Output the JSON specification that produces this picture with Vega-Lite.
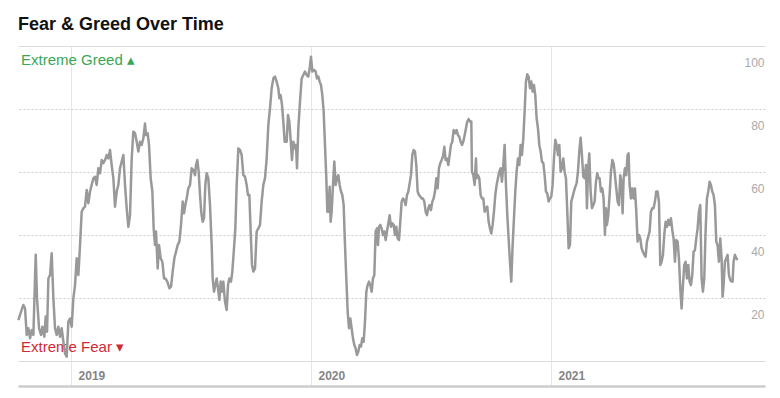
{
  "$schema": "https://vega.github.io/schema/vega-lite/v6.json",
  "width": 747,
  "height": 315,
  "autosize": {"type": "none"},
  "padding": {"left": 18, "top": 46, "right": 15, "bottom": 37},
  "background": "#ffffff",
  "view": {"stroke": null},
  "title": {"text": "Fear & Greed Over Time", "anchor": "start", "frame": "group", "font": "Liberation Sans", "fontSize": 18, "fontWeight": "bold", "color": "#111111", "baseline": "alphabetic", "offset": -2},
  "datasets": {
    "series": [
      {"t":2018.7806,"v":13.0},{"t":2018.7917,"v":15.7},{"t":2018.8014,"v":17.8},{"t":2018.8083,"v":16.7},{"t":2018.8153,"v":8.3},{"t":2018.8222,"v":10.4},{"t":2018.8292,"v":7.2},{"t":2018.8361,"v":9.8},{"t":2018.8431,"v":8.3},{"t":2018.8528,"v":33.7},{"t":2018.8583,"v":19.9},{"t":2018.8667,"v":10.4},{"t":2018.875,"v":8.3},{"t":2018.8806,"v":10.9},{"t":2018.8889,"v":7.7},{"t":2018.8944,"v":14.1},{"t":2018.9,"v":9.3},{"t":2018.9056,"v":26.2},{"t":2018.9125,"v":27.3},{"t":2018.9194,"v":34.2},{"t":2018.9264,"v":19.9},{"t":2018.9333,"v":10.4},{"t":2018.9403,"v":8.3},{"t":2018.9472,"v":10.9},{"t":2018.9542,"v":7.7},{"t":2018.9611,"v":10.4},{"t":2018.9681,"v":6.1},{"t":2018.975,"v":2.4},{"t":2018.9819,"v":1.4},{"t":2018.9889,"v":12.5},{"t":2018.9958,"v":13.5},{"t":2019.0028,"v":10.9},{"t":2019.0097,"v":19.9},{"t":2019.0167,"v":24.1},{"t":2019.0236,"v":32.6},{"t":2019.0306,"v":27.3},{"t":2019.0375,"v":36.8},{"t":2019.0444,"v":47.4},{"t":2019.0514,"v":48.5},{"t":2019.0583,"v":49.0},{"t":2019.0653,"v":54.3},{"t":2019.0722,"v":50.1},{"t":2019.0792,"v":53.8},{"t":2019.0861,"v":55.9},{"t":2019.0931,"v":58.0},{"t":2019.1,"v":58.5},{"t":2019.1069,"v":55.9},{"t":2019.1139,"v":61.2},{"t":2019.1208,"v":59.6},{"t":2019.1278,"v":63.8},{"t":2019.1347,"v":62.8},{"t":2019.1417,"v":63.8},{"t":2019.1486,"v":65.4},{"t":2019.1556,"v":64.3},{"t":2019.1625,"v":67.0},{"t":2019.1694,"v":62.2},{"t":2019.1764,"v":58.0},{"t":2019.1833,"v":49.0},{"t":2019.1903,"v":53.8},{"t":2019.1972,"v":55.9},{"t":2019.2042,"v":61.2},{"t":2019.2111,"v":63.3},{"t":2019.2181,"v":65.4},{"t":2019.225,"v":55.9},{"t":2019.2319,"v":48.5},{"t":2019.2389,"v":42.6},{"t":2019.2458,"v":46.3},{"t":2019.2528,"v":64.3},{"t":2019.2597,"v":72.8},{"t":2019.2667,"v":72.3},{"t":2019.2736,"v":69.6},{"t":2019.2806,"v":66.5},{"t":2019.2875,"v":69.6},{"t":2019.2944,"v":68.6},{"t":2019.3014,"v":70.7},{"t":2019.3083,"v":75.4},{"t":2019.3125,"v":71.7},{"t":2019.3194,"v":72.3},{"t":2019.325,"v":68.6},{"t":2019.3319,"v":58.0},{"t":2019.3389,"v":53.8},{"t":2019.3444,"v":42.1},{"t":2019.35,"v":36.8},{"t":2019.3542,"v":41.1},{"t":2019.3611,"v":29.4},{"t":2019.3667,"v":36.8},{"t":2019.3736,"v":32.6},{"t":2019.3806,"v":31.5},{"t":2019.3875,"v":26.2},
      {"t":2019.3931,"v":26.2},{"t":2019.4014,"v":25.2},{"t":2019.4097,"v":23.1},{"t":2019.4167,"v":23.6},{"t":2019.4236,"v":28.4},{"t":2019.4306,"v":32.6},{"t":2019.4375,"v":34.7},{"t":2019.4444,"v":36.8},{"t":2019.4514,"v":37.9},{"t":2019.4583,"v":43.2},{"t":2019.4653,"v":50.6},{"t":2019.4708,"v":46.9},{"t":2019.4764,"v":49.5},{"t":2019.4819,"v":51.6},{"t":2019.4889,"v":54.8},{"t":2019.4958,"v":55.9},{"t":2019.5028,"v":61.2},{"t":2019.5097,"v":60.6},{"t":2019.5167,"v":59.0},{"t":2019.5208,"v":62.2},{"t":2019.5264,"v":63.8},{"t":2019.5319,"v":60.1},{"t":2019.5375,"v":52.7},{"t":2019.5431,"v":46.9},{"t":2019.5486,"v":44.2},{"t":2019.5542,"v":45.3},{"t":2019.5597,"v":55.9},{"t":2019.5653,"v":59.6},{"t":2019.5722,"v":58.0},{"t":2019.5792,"v":49.5},{"t":2019.5861,"v":36.8},{"t":2019.5903,"v":26.2},{"t":2019.5958,"v":22.0},{"t":2019.6014,"v":24.1},{"t":2019.6069,"v":26.2},{"t":2019.6125,"v":23.1},{"t":2019.6181,"v":19.4},{"t":2019.6236,"v":25.2},{"t":2019.6292,"v":22.0},{"t":2019.6347,"v":25.2},{"t":2019.6417,"v":18.8},{"t":2019.6486,"v":16.2},{"t":2019.6542,"v":24.1},{"t":2019.6597,"v":26.2},{"t":2019.6667,"v":25.2},{"t":2019.6722,"v":28.4},{"t":2019.6792,"v":35.8},{"t":2019.6847,"v":42.1},{"t":2019.6903,"v":55.9},{"t":2019.6972,"v":67.5},{"t":2019.7042,"v":67.0},{"t":2019.7111,"v":65.4},{"t":2019.7181,"v":59.0},{"t":2019.725,"v":58.5},{"t":2019.7319,"v":55.9},{"t":2019.7375,"v":52.7},{"t":2019.7431,"v":52.7},{"t":2019.7486,"v":41.1},{"t":2019.7542,"v":30.5},{"t":2019.7597,"v":28.4},{"t":2019.7667,"v":29.4},{"t":2019.7736,"v":41.1},{"t":2019.7806,"v":42.1},{"t":2019.7875,"v":43.2},{"t":2019.7944,"v":50.6},{"t":2019.8014,"v":55.9},{"t":2019.8083,"v":58.0},{"t":2019.8153,"v":64.3},{"t":2019.8222,"v":74.9},{"t":2019.8292,"v":80.2},{"t":2019.8361,"v":86.6},{"t":2019.8431,"v":89.7},{"t":2019.85,"v":90.3},{"t":2019.8569,"v":88.7},{"t":2019.8639,"v":86.6},{"t":2019.8681,"v":83.4},{"t":2019.8736,"v":84.4},{"t":2019.8792,"v":81.3},{"t":2019.8847,"v":76.0},{"t":2019.8903,"v":69.6},{"t":2019.8986,"v":69.6},{"t":2019.9042,"v":78.1},{"t":2019.9097,"v":76.0},{"t":2019.9167,"v":68.6},{"t":2019.9208,"v":63.8},{"t":2019.9264,"v":69.6},{"t":2019.9319,"v":67.5},{"t":2019.9375,"v":68.6},{"t":2019.9417,"v":61.2},{"t":2019.9472,"v":73.9},{"t":2019.9542,"v":82.3},{"t":2019.9611,"v":89.7},{"t":2019.9681,"v":90.8},{"t":2019.975,"v":91.9},{"t":2019.9819,"v":90.8},
      {"t":2019.9889,"v":90.3},{"t":2019.9944,"v":92.9},{"t":2020.0,"v":96.6},{"t":2020.0056,"v":91.9},{"t":2020.0125,"v":92.4},{"t":2020.0194,"v":91.9},{"t":2020.025,"v":89.7},{"t":2020.0306,"v":90.3},{"t":2020.0361,"v":88.7},{"t":2020.0417,"v":87.6},{"t":2020.0472,"v":84.4},{"t":2020.0528,"v":79.2},{"t":2020.0583,"v":68.6},{"t":2020.0639,"v":58.0},{"t":2020.0681,"v":47.4},{"t":2020.0722,"v":47.4},{"t":2020.0778,"v":55.3},{"t":2020.0819,"v":44.2},{"t":2020.0861,"v":47.4},{"t":2020.0917,"v":55.9},{"t":2020.0972,"v":63.3},{"t":2020.1028,"v":55.9},{"t":2020.1083,"v":58.0},{"t":2020.1139,"v":59.0},{"t":2020.1194,"v":55.9},{"t":2020.125,"v":53.8},{"t":2020.1306,"v":52.7},{"t":2020.1361,"v":49.5},{"t":2020.1417,"v":36.8},{"t":2020.1472,"v":26.2},{"t":2020.1528,"v":15.7},{"t":2020.1583,"v":10.4},{"t":2020.1639,"v":13.5},{"t":2020.1694,"v":10.4},{"t":2020.175,"v":7.2},{"t":2020.1806,"v":5.1},{"t":2020.1861,"v":4.0},{"t":2020.1917,"v":1.9},{"t":2020.1972,"v":3.0},{"t":2020.2028,"v":5.1},{"t":2020.2083,"v":4.6},{"t":2020.2139,"v":7.2},{"t":2020.2194,"v":6.1},{"t":2020.225,"v":12.5},{"t":2020.2306,"v":22.0},{"t":2020.2361,"v":24.1},{"t":2020.2417,"v":25.2},{"t":2020.2472,"v":24.1},{"t":2020.2528,"v":22.0},{"t":2020.2583,"v":26.2},{"t":2020.2639,"v":27.3},{"t":2020.2694,"v":41.1},{"t":2020.275,"v":42.1},{"t":2020.2792,"v":36.8},{"t":2020.2833,"v":42.6},{"t":2020.2889,"v":43.2},{"t":2020.2944,"v":42.1},{"t":2020.3,"v":40.0},{"t":2020.3056,"v":41.1},{"t":2020.3111,"v":38.4},{"t":2020.3167,"v":41.1},{"t":2020.3222,"v":43.7},{"t":2020.3278,"v":46.3},{"t":2020.3333,"v":42.6},{"t":2020.3389,"v":43.7},{"t":2020.3444,"v":43.2},{"t":2020.35,"v":40.0},{"t":2020.3556,"v":42.6},{"t":2020.3611,"v":38.9},{"t":2020.3667,"v":38.4},{"t":2020.3722,"v":44.2},{"t":2020.3778,"v":50.6},{"t":2020.3833,"v":51.6},{"t":2020.3889,"v":51.1},{"t":2020.3944,"v":49.5},{"t":2020.4,"v":52.7},{"t":2020.4056,"v":53.8},{"t":2020.4111,"v":56.4},{"t":2020.4167,"v":59.0},{"t":2020.4222,"v":65.4},{"t":2020.4278,"v":67.0},{"t":2020.4333,"v":66.5},{"t":2020.4389,"v":62.2},{"t":2020.4444,"v":53.8},{"t":2020.45,"v":52.7},{"t":2020.4556,"v":52.2},{"t":2020.4611,"v":51.6},{"t":2020.4667,"v":51.6},{"t":2020.4722,"v":50.6},{"t":2020.4778,"v":47.4},{"t":2020.4833,"v":46.3},{"t":2020.4889,"v":48.5},{"t":2020.4944,"v":49.5},{"t":2020.5,"v":47.9},{"t":2020.5056,"v":50.6},{"t":2020.5111,"v":51.6},{"t":2020.5167,"v":53.8},{"t":2020.5222,"v":58.0},{"t":2020.5278,"v":54.8},{"t":2020.5333,"v":61.2},{"t":2020.5389,"v":62.8},{"t":2020.5444,"v":63.8},{"t":2020.55,"v":64.9},{"t":2020.5556,"v":68.0},{"t":2020.5611,"v":63.8},{"t":2020.5667,"v":64.3},{"t":2020.5722,"v":62.2},{"t":2020.5778,"v":65.4},{"t":2020.5833,"v":68.6},{"t":2020.5889,"v":69.6},{"t":2020.5944,"v":73.3},
      {"t":2020.6014,"v":72.3},{"t":2020.6069,"v":73.3},{"t":2020.6125,"v":71.7},{"t":2020.6181,"v":71.2},{"t":2020.6236,"v":69.6},{"t":2020.6292,"v":68.6},{"t":2020.6347,"v":69.6},{"t":2020.6403,"v":71.7},{"t":2020.6458,"v":73.9},{"t":2020.6514,"v":76.0},{"t":2020.6569,"v":76.8},{"t":2020.6625,"v":76.0},{"t":2020.6681,"v":76.0},{"t":2020.6708,"v":60.1},{"t":2020.6764,"v":59.0},{"t":2020.6819,"v":55.9},{"t":2020.6875,"v":64.3},{"t":2020.6903,"v":58.0},{"t":2020.6958,"v":59.0},{"t":2020.7014,"v":58.0},{"t":2020.7069,"v":52.7},{"t":2020.7125,"v":51.6},{"t":2020.7181,"v":51.6},{"t":2020.7236,"v":47.4},{"t":2020.7292,"v":48.5},{"t":2020.7347,"v":49.0},{"t":2020.7403,"v":44.2},{"t":2020.7458,"v":42.1},{"t":2020.7514,"v":40.5},{"t":2020.7569,"v":43.2},{"t":2020.7625,"v":47.4},{"t":2020.7681,"v":52.7},{"t":2020.7736,"v":55.9},{"t":2020.7792,"v":58.0},{"t":2020.7847,"v":60.1},{"t":2020.7903,"v":61.2},{"t":2020.7958,"v":56.9},{"t":2020.8014,"v":62.2},{"t":2020.8069,"v":68.6},{"t":2020.8125,"v":55.9},{"t":2020.8181,"v":46.3},{"t":2020.8236,"v":38.9},{"t":2020.8292,"v":31.5},{"t":2020.8347,"v":25.2},{"t":2020.8403,"v":36.8},{"t":2020.8458,"v":45.3},{"t":2020.8514,"v":53.8},{"t":2020.8569,"v":60.1},{"t":2020.8625,"v":64.3},{"t":2020.8681,"v":62.2},{"t":2020.8736,"v":68.6},{"t":2020.8792,"v":65.4},{"t":2020.8847,"v":70.7},{"t":2020.8903,"v":79.2},{"t":2020.8958,"v":88.7},{"t":2020.9014,"v":91.0},{"t":2020.9069,"v":90.3},{"t":2020.9125,"v":86.6},{"t":2020.9181,"v":88.7},{"t":2020.9236,"v":85.5},{"t":2020.9292,"v":87.6},{"t":2020.9347,"v":84.4},{"t":2020.9403,"v":77.0},{"t":2020.9458,"v":73.9},{"t":2020.9514,"v":68.6},{"t":2020.9569,"v":66.5},{"t":2020.9625,"v":63.3},{"t":2020.9681,"v":62.8},{"t":2020.9736,"v":59.0},{"t":2020.9792,"v":53.8},{"t":2020.9847,"v":53.2},{"t":2020.9903,"v":50.6},{"t":2020.9958,"v":51.6},{"t":2021.0014,"v":52.2},{"t":2021.0069,"v":55.9},{"t":2021.0125,"v":64.3},{"t":2021.0181,"v":70.2},{"t":2021.0236,"v":68.6},{"t":2021.0292,"v":65.4},{"t":2021.0347,"v":68.6},{"t":2021.0403,"v":60.1},{"t":2021.0458,"v":61.2},{"t":2021.0514,"v":64.3},{"t":2021.0569,"v":60.1},{"t":2021.0625,"v":58.0},{"t":2021.0681,"v":47.4},{"t":2021.0736,"v":35.8},{"t":2021.0792,"v":36.8},{"t":2021.0847,"v":50.6},{"t":2021.0903,"v":52.2},{"t":2021.0958,"v":53.8},{"t":2021.1014,"v":55.3},{"t":2021.1069,"v":56.4},{"t":2021.1125,"v":60.1},{"t":2021.1181,"v":66.5},{"t":2021.1236,"v":70.9},{"t":2021.1292,"v":65.4},{"t":2021.1347,"v":58.5},{"t":2021.1403,"v":58.0},{"t":2021.1458,"v":62.2},{"t":2021.15,"v":48.5},{"t":2021.1542,"v":60.1},{"t":2021.1597,"v":65.9},{"t":2021.1653,"v":53.8},{"t":2021.1708,"v":48.5},{"t":2021.1764,"v":49.5},{"t":2021.1819,"v":50.6},{"t":2021.1875,"v":56.9},{"t":2021.1931,"v":59.6},{"t":2021.1986,"v":58.0},
      {"t":2021.2028,"v":58.0},{"t":2021.2083,"v":53.8},{"t":2021.2139,"v":54.8},{"t":2021.2194,"v":51.6},{"t":2021.225,"v":40.0},{"t":2021.2292,"v":48.5},{"t":2021.2333,"v":43.2},{"t":2021.2389,"v":46.3},{"t":2021.2444,"v":52.7},{"t":2021.25,"v":60.1},{"t":2021.2556,"v":63.8},{"t":2021.2611,"v":62.8},{"t":2021.2667,"v":59.0},{"t":2021.2722,"v":54.8},{"t":2021.2778,"v":50.6},{"t":2021.2833,"v":49.5},{"t":2021.2889,"v":59.0},{"t":2021.2944,"v":55.9},{"t":2021.2986,"v":46.9},{"t":2021.3028,"v":58.0},{"t":2021.3083,"v":61.2},{"t":2021.3139,"v":59.0},{"t":2021.3194,"v":65.4},{"t":2021.3236,"v":65.9},{"t":2021.3278,"v":55.9},{"t":2021.3333,"v":51.6},{"t":2021.3389,"v":54.8},{"t":2021.3444,"v":51.6},{"t":2021.35,"v":54.8},{"t":2021.3556,"v":47.4},{"t":2021.3611,"v":37.9},{"t":2021.3667,"v":40.0},{"t":2021.3722,"v":38.9},{"t":2021.3778,"v":35.8},{"t":2021.3833,"v":34.7},{"t":2021.3889,"v":33.7},{"t":2021.3944,"v":33.1},{"t":2021.4,"v":37.9},{"t":2021.4056,"v":39.5},{"t":2021.4111,"v":41.1},{"t":2021.4167,"v":47.4},{"t":2021.4222,"v":48.5},{"t":2021.4278,"v":48.5},{"t":2021.4333,"v":50.6},{"t":2021.4389,"v":53.8},{"t":2021.4444,"v":53.8},{"t":2021.45,"v":50.6},{"t":2021.4556,"v":30.5},{"t":2021.4611,"v":31.5},{"t":2021.4667,"v":33.7},{"t":2021.4722,"v":40.0},{"t":2021.4778,"v":44.2},{"t":2021.4833,"v":42.6},{"t":2021.4889,"v":44.8},{"t":2021.4944,"v":43.2},{"t":2021.5,"v":45.3},{"t":2021.5056,"v":41.6},{"t":2021.5111,"v":38.9},{"t":2021.5167,"v":31.5},{"t":2021.5222,"v":38.4},{"t":2021.5278,"v":37.9},{"t":2021.5333,"v":32.6},{"t":2021.5389,"v":23.1},{"t":2021.5444,"v":16.7},{"t":2021.55,"v":24.1},{"t":2021.5556,"v":30.5},{"t":2021.5611,"v":31.5},{"t":2021.5667,"v":26.2},{"t":2021.5722,"v":30.5},{"t":2021.5778,"v":25.2},{"t":2021.5833,"v":24.1},{"t":2021.5889,"v":27.3},{"t":2021.5944,"v":34.7},{"t":2021.6,"v":35.2},{"t":2021.6056,"v":38.9},{"t":2021.6111,"v":42.1},{"t":2021.6167,"v":47.4},{"t":2021.6222,"v":49.5},{"t":2021.6278,"v":26.2},{"t":2021.6333,"v":22.0},{"t":2021.6389,"v":26.2},{"t":2021.6444,"v":41.1},{"t":2021.65,"v":51.6},{"t":2021.6556,"v":53.8},{"t":2021.6611,"v":56.9},{"t":2021.6667,"v":55.9},{"t":2021.6722,"v":53.8},{"t":2021.6778,"v":52.7},{"t":2021.6833,"v":49.5},{"t":2021.6889,"v":37.9},{"t":2021.6944,"v":36.8},{"t":2021.7,"v":31.5},{"t":2021.7056,"v":38.9},{"t":2021.7111,"v":32.6},{"t":2021.7153,"v":20.4},{"t":2021.7194,"v":24.1},{"t":2021.725,"v":31.5},{"t":2021.7306,"v":32.6},{"t":2021.7361,"v":33.7},{"t":2021.7417,"v":27.3},{"t":2021.7472,"v":25.7},{"t":2021.7528,"v":25.2},{"t":2021.7569,"v":25.2},{"t":2021.7611,"v":31.5},{"t":2021.7667,"v":33.7},{"t":2021.7722,"v":32.6},{"t":2021.7778,"v":32.1}
    ],
    "zones": [
      {"label": "Extreme Greed ▴", "kind": "greed", "t": 2018.7917, "v": 95.6},
      {"label": "Extreme Fear ▾", "kind": "fear", "t": 2018.7917, "v": 4.4}
    ]
  },
  "encoding": {
    "x": {
      "field": "t", "type": "quantitative",
      "scale": {"domain": [2018.779, 2021.892], "nice": false, "zero": false},
      "axis": {
        "orient": "bottom", "offset": 25, "title": null,
        "values": [2019, 2020, 2021], "format": "d",
        "grid": true, "gridColor": "#e6e6e6", "gridWidth": 1,
        "domain": true, "domainColor": "#cccccc", "domainWidth": 2.5,
        "ticks": true, "tickSize": -25, "tickColor": "#e6e6e6", "tickWidth": 1,
        "labelAlign": "left", "labelBaseline": "middle", "labelOffset": 7, "labelPadding": 14,
        "labelFlush": false, "labelFont": "Liberation Sans", "labelFontSize": 12, "labelFontWeight": "bold", "labelColor": "#858585"
      }
    },
    "y": {
      "field": "v", "type": "quantitative",
      "scale": {"domain": [0, 100], "nice": false},
      "axis": {
        "orient": "right", "title": null,
        "values": [0, 20, 40, 60, 80, 100],
        "labelExpr": "datum.value == 0 ? '' : datum.label",
        "grid": true,
        "gridColor": {"condition": {"test": "datum.value == 0 || datum.value == 100", "value": "#dddddd"}, "value": "#cccccc"},
        "gridDash": {"condition": {"test": "datum.value == 0 || datum.value == 100", "value": []}, "value": [2, 2]},
        "domain": false, "ticks": false,
        "labelAlign": "right", "labelBaseline": "middle", "labelPadding": -1, "labelOffset": 16,
        "labelFont": "Liberation Sans", "labelFontSize": 12, "labelColor": "#aaaaaa"
      }
    }
  },
  "layer": [
    {
      "data": {"name": "zones"},
      "mark": {"type": "text", "align": "left", "baseline": "middle", "font": "Liberation Sans", "fontSize": 15},
      "encoding": {
        "text": {"field": "label"},
        "color": {"field": "kind", "type": "nominal", "scale": {"domain": ["greed", "fear"], "range": ["#3aa757", "#cf2a36"]}, "legend": null}
      }
    },
    {
      "data": {"name": "series"},
      "mark": {"type": "line", "color": "#999999", "strokeWidth": 2.5, "strokeJoin": "round", "interpolate": "linear"}
    }
  ]
}
